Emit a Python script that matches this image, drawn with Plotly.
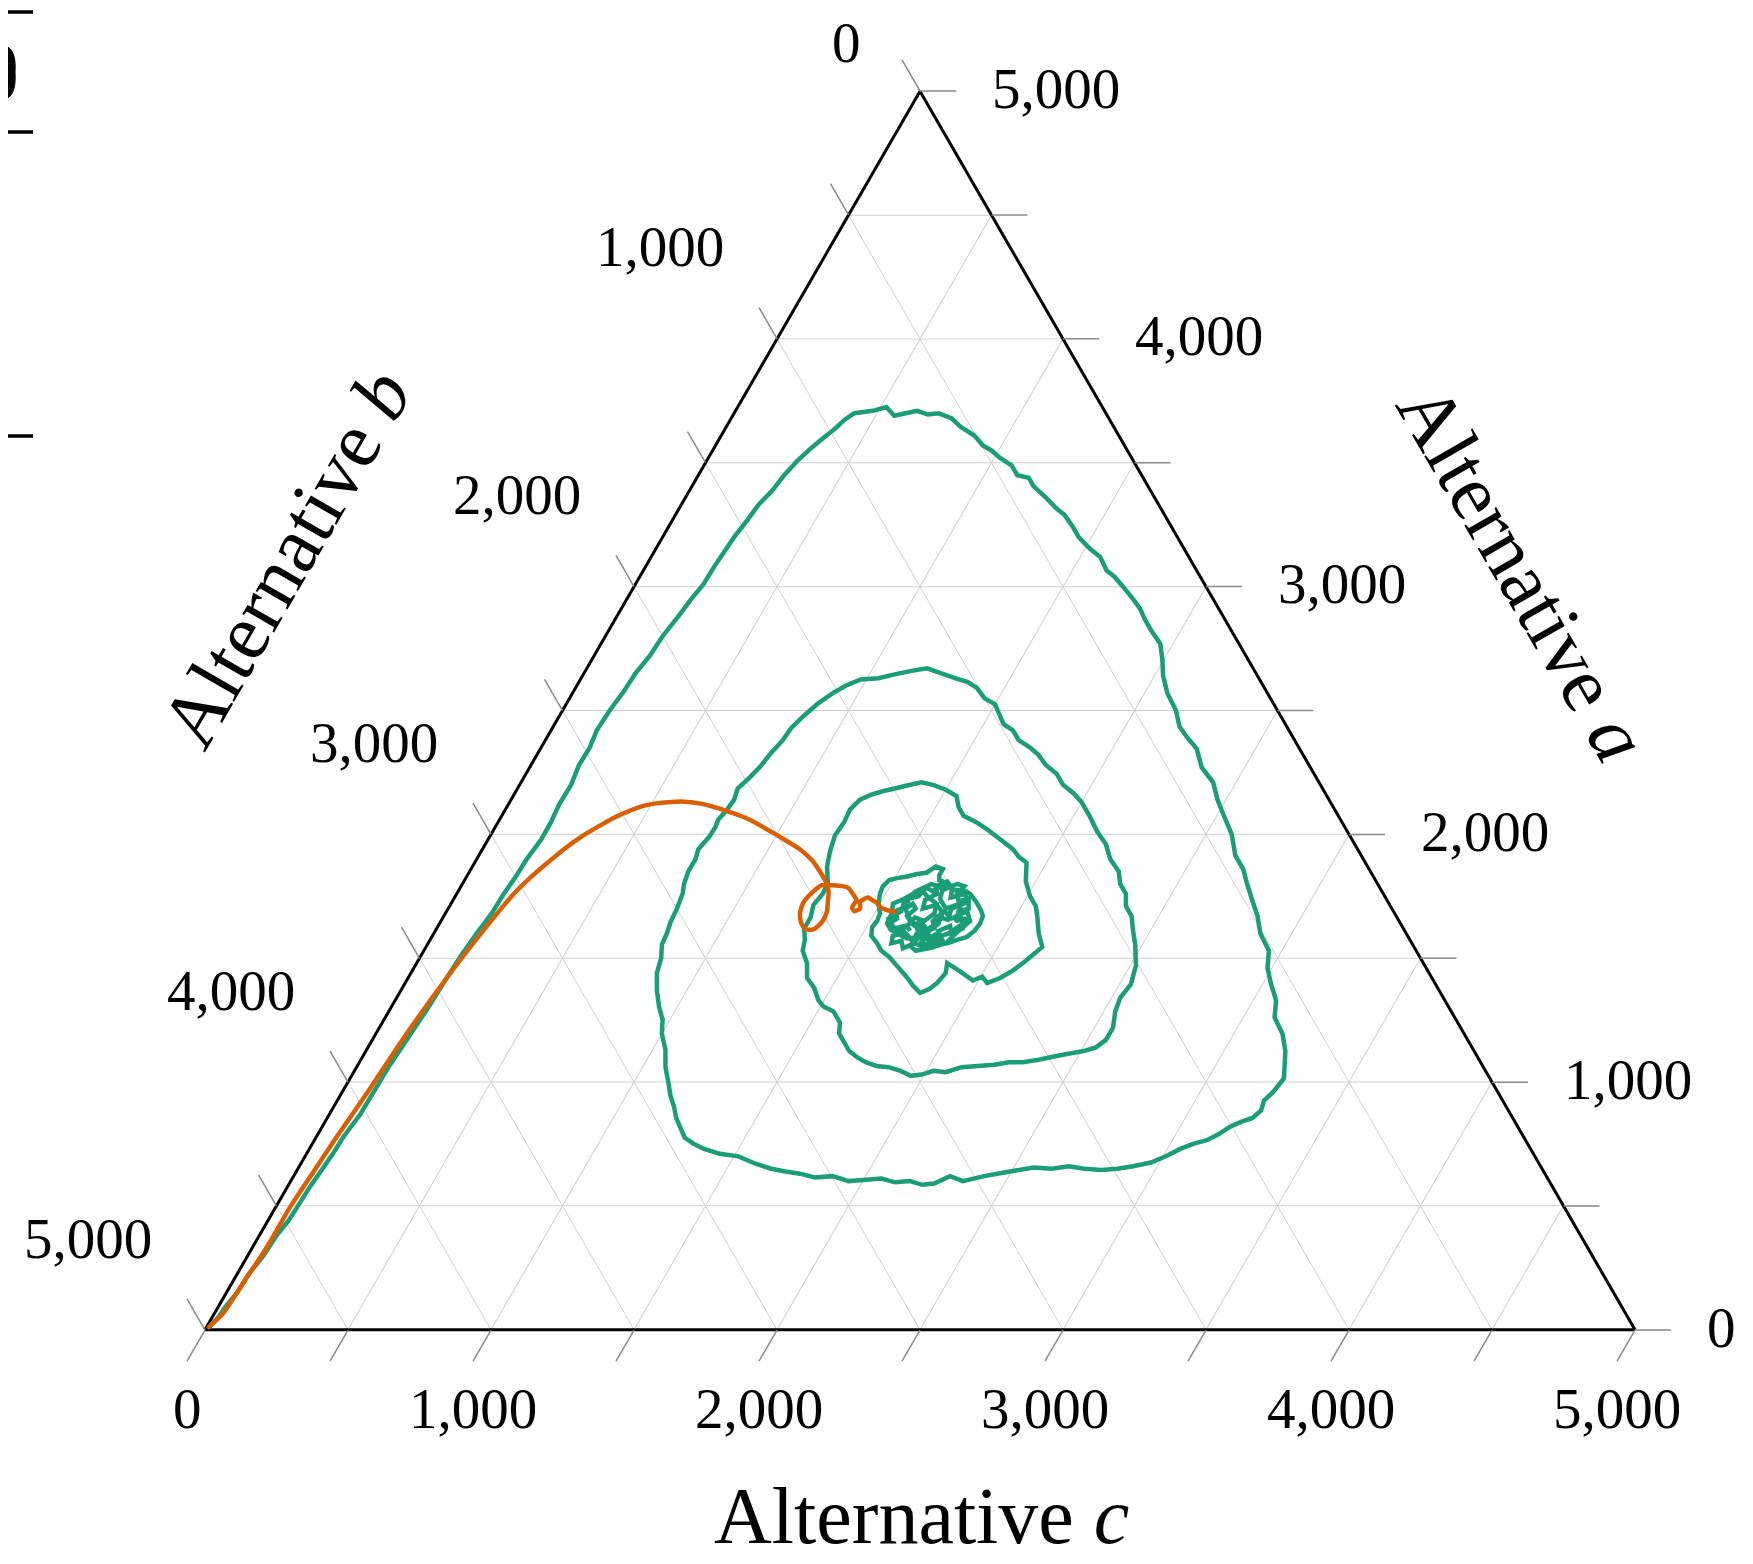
import plotly.graph_objects as go

TOTAL = 5000
GRID_VALUES = list(range(0, 5001, 500))
LABEL_VALUES = [0, 1000, 2000, 3000, 4000, 5000]
LABEL_TEXT = ["0", "1,000", "2,000", "3,000", "4,000", "5,000"]

# Green trajectory: component a (top vertex) and c (bottom-right vertex); b = total - a - c
green_a = [10, 50, 90, 150, 220, 300, 380, 440, 500, 570, 640, 710, 780, 870, 970, 1070, 1170,
           1300, 1420, 1510, 1600, 1680, 1760, 1830, 1900, 1980, 2050, 2120, 2200, 2280, 2350,
           2420, 2500, 2580, 2650, 2720, 2800, 2880, 2950, 3010, 3080, 3140, 3200, 3270, 3330,
           3390, 3450, 3510, 3560, 3600, 3640, 3675, 3700,
           3710, 3725, 3690, 3700, 3710, 3695, 3700, 3680, 3645, 3610, 3570, 3550, 3520, 3490,
           3450, 3440, 3405, 3360, 3315, 3290, 3245, 3200, 3155, 3120, 3065, 3040, 3000, 2950,
           2910, 2870, 2820, 2770, 2705, 2640, 2570, 2500, 2435, 2390, 2345, 2270, 2210, 2140,
           2075, 2000, 1915, 1860, 1805, 1740, 1670, 1600, 1530, 1460, 1395, 1330, 1260, 1195,
           1125, 1070, 1015, 960, 925, 885, 855, 840, 820, 790, 765, 750, 730, 700, 675, 660,
           650, 645, 650, 660, 650, 655, 640, 630, 620, 600, 620, 590, 585, 600, 595, 610, 605,
           600, 620, 615, 630, 640, 650, 670, 700, 710, 730, 750, 775, 815, 855, 900, 945, 1000,
           1060, 1130, 1195, 1250, 1305, 1370, 1440, 1500, 1555, 1600, 1645, 1700, 1760, 1800,
           1850, 1900, 1940, 1990, 2030, 2060, 2095, 2140, 2185, 2230, 2275, 2330, 2380, 2430,
           2480, 2530, 2570, 2600, 2625, 2630, 2645, 2660, 2670, 2650, 2630, 2615, 2590, 2550,
           2525, 2490, 2445, 2420, 2380, 2350, 2320, 2280, 2245, 2200, 2165, 2130, 2075, 2010,
           1960, 1900, 1850, 1800, 1760, 1710, 1670, 1610, 1555, 1470, 1395, 1340, 1285, 1220,
           1170, 1140, 1125, 1115, 1105, 1090, 1080, 1080, 1070, 1065, 1060, 1040, 1045, 1030,
           1025, 1045, 1060, 1065, 1080, 1100, 1125, 1160, 1195, 1240, 1285, 1305, 1330, 1380,
           1420, 1480, 1530, 1575, 1620, 1665, 1715, 1760, 1805, 1870, 1930, 1995, 2050, 2100,
           2140, 2160, 2175, 2185, 2195, 2210, 2200, 2180, 2155, 2110, 2075, 2050, 2020, 1980,
           1940, 1910, 1885, 1810, 1750, 1710, 1670, 1600, 1545, 1490, 1450, 1420, 1400, 1425,
           1410, 1445, 1480, 1440, 1400, 1375, 1360, 1390, 1425, 1465, 1505, 1530, 1560, 1590,
           1625, 1650, 1680, 1720, 1760, 1790, 1815, 1825, 1830, 1840, 1845, 1870, 1860, 1835,
           1815, 1800, 1775, 1775, 1760, 1730, 1695, 1670, 1640, 1610, 1585, 1575, 1560, 1570,
           1585, 1580, 1600, 1615, 1640, 1685, 1720, 1740, 1760, 1770, 1750, 1725, 1695, 1665,
           1640, 1615, 1625, 1650, 1680, 1700, 1720, 1700, 1670, 1640, 1610, 1580, 1600, 1640,
           1680, 1720, 1700, 1740, 1780, 1800, 1770, 1730, 1690, 1660, 1620, 1600, 1560, 1540,
           1560, 1610, 1650, 1690, 1660, 1690, 1650, 1620, 1610, 1650,
           1650, 1630, 1600, 1585, 1560, 1555, 1590, 1610, 1630, 1600, 1620, 1660, 1650, 1690,
           1700, 1740, 1730, 1760, 1790, 1800, 1780, 1800, 1770, 1785, 1750, 1740, 1710, 1690,
           1660, 1640, 1620, 1630, 1600, 1590, 1560, 1570, 1540, 1560, 1590, 1610, 1580, 1600,
           1575, 1545, 1530, 1550, 1585, 1620, 1605, 1640, 1670, 1655, 1700, 1725, 1760, 1745,
           1785, 1810, 1790, 1760, 1735, 1700, 1715, 1680, 1650, 1665, 1630, 1610]
green_c = [10, 22, 25, 38, 40, 55, 60, 72, 75, 78, 85, 92, 95, 108, 110, 112, 120,
           130, 135, 140, 150, 162, 165, 172, 175, 186, 185, 178, 180, 168, 170,
           160, 165, 176, 180, 195, 200, 215, 225, 238, 240, 245, 250, 262, 270,
           290, 300, 318, 340, 362, 385, 400, 420,
           480, 520, 565, 600, 635, 680, 715, 770, 820, 885, 935, 975, 1020, 1075,
           1115, 1160, 1195, 1260, 1320, 1360, 1410, 1455, 1515, 1570, 1620, 1660, 1710, 1770,
           1815, 1850, 1900, 1955, 1995, 2030, 2080, 2145, 2190, 2240, 2295, 2350, 2420, 2470,
           2525, 2590, 2645, 2700, 2740, 2790, 2845, 2890, 2955, 2985, 3030, 3080, 3110, 3170,
           3215, 3240, 3265, 3255, 3240, 3250, 3235, 3205, 3175, 3150, 3120, 3080, 3045, 3010, 2970, 2915,
           2865, 2810, 2750, 2690, 2635, 2570, 2500, 2455, 2415, 2350, 2295, 2255, 2215, 2165, 2115, 2060, 2010,
           1950, 1885, 1825, 1765, 1705, 1655, 1590, 1515, 1445, 1380, 1335, 1290, 1255, 1220, 1190, 1155, 1120,
           1080, 1045, 1000, 975, 935, 895, 860, 845, 820, 815, 805, 800, 790, 775,
           765, 765, 755, 768, 770, 765, 775, 780, 770, 790, 805, 815, 830, 835,
           855, 880, 910, 940, 980, 1040, 1085, 1140, 1190, 1250, 1310, 1360, 1405, 1450,
           1500, 1530, 1570, 1615, 1655, 1710, 1755, 1800, 1855, 1900, 1955, 2000, 2055, 2115,
           2170, 2215, 2270, 2300, 2340, 2365, 2405, 2440, 2475, 2520, 2540, 2530, 2540, 2565,
           2565, 2545, 2510, 2465, 2425, 2370, 2320, 2270, 2225, 2170, 2115, 2070, 2025, 1990,
           1955, 1910, 1860, 1815, 1770, 1730, 1690, 1655, 1620, 1600, 1555, 1510, 1480, 1440,
           1395, 1365, 1325, 1310, 1285, 1285, 1270, 1280, 1275, 1240, 1220, 1205, 1210, 1205,
           1220, 1250, 1285, 1320, 1350, 1400, 1445, 1500, 1550, 1580, 1615, 1670, 1725, 1790,
           1855, 1890, 1930, 1965, 2010, 2050, 2075, 2115, 2155, 2125, 2100, 2070, 2035, 2005,
           1980, 1920, 1855, 1870, 1860, 1845, 1820, 1780, 1740, 1690, 1640, 1600, 1570, 1535,
           1520, 1525, 1520, 1495, 1480, 1475, 1485, 1515, 1540, 1570, 1600, 1620, 1650, 1650,
           1660, 1700, 1730, 1765, 1795, 1830, 1865, 1885, 1890, 1885, 1870, 1845, 1815, 1760,
           1705, 1665, 1620, 1590, 1565, 1560, 1545, 1575, 1595, 1625, 1650, 1690, 1725, 1745,
           1740, 1715, 1685, 1645, 1615, 1600, 1615, 1635, 1620, 1650, 1700, 1760, 1800, 1830,
           1800, 1780, 1740, 1700, 1690, 1640, 1600, 1580, 1590, 1560, 1600, 1650, 1700, 1760,
           1810, 1830, 1850, 1820, 1780, 1740, 1720, 1740, 1690, 1670,
           1670, 1700, 1690, 1730, 1720, 1760, 1775, 1760, 1790, 1810, 1840, 1830, 1800, 1790,
           1820, 1800, 1770, 1750, 1760, 1730, 1700, 1680, 1660, 1630, 1620, 1590, 1600, 1570,
           1590, 1570, 1600, 1630, 1640, 1610, 1620, 1650, 1670, 1700, 1690, 1720, 1740, 1760,
           1790, 1775, 1720, 1690, 1705, 1680, 1725, 1745, 1720, 1770, 1760, 1800, 1780, 1735,
           1720, 1690, 1660, 1680, 1650, 1660, 1700, 1710, 1690, 1650, 1640, 1660]

# Orange trajectory
orange_a = [5, 65, 200, 335, 495, 630, 765, 970, 1170, 1420, 1600, 1760, 1825, 1885, 1940,
            1990, 2030, 2070, 2095, 2115, 2125, 2130, 2132, 2125, 2112, 2095, 2075, 2050,
            2020, 1990, 1940, 1895, 1850, 1805, 1765, 1725, 1690, 1655, 1628, 1615, 1618,
            1640, 1680, 1725, 1765, 1795, 1795, 1785, 1760, 1735, 1705, 1690, 1700, 1720,
            1725, 1745, 1735, 1725, 1705, 1695, 1685]
orange_c = [5, 30, 40, 50, 50, 60, 70, 90, 105, 135, 165, 200, 225, 255, 285,
            320, 358, 400, 437, 475, 515, 555, 610, 665, 720, 775, 835, 895,
            955, 1015, 1110, 1175, 1225, 1270, 1298, 1315, 1330, 1335, 1328, 1315, 1290,
            1265, 1240, 1230, 1240, 1260, 1285, 1355, 1385, 1410, 1410, 1425, 1440, 1430,
            1425, 1445, 1465, 1485, 1510, 1535, 1575]

GREEN = "#1b9e77"
ORANGE = "#d95f02"
FONT = "Liberation Serif"

# the page body adds an 8px margin; the figure is sized to fill the rest of the window
OFF = 8
WIN_W, WIN_H = 1753, 1564
W, H = WIN_W - OFF, WIN_H - OFF
ML, MR, MT, MB = 205 - OFF, 118, 91 - OFF, 234
PW, PH = W - ML - MR, H - MT - MB


def px_x(x):
    return (x - OFF - ML) / PW


def px_y(y):
    return (WIN_H - MB - y) / PH


fig = go.Figure()
fig.add_trace(go.Scatterternary(
    a=green_a, c=green_c, b=[TOTAL - a - c for a, c in zip(green_a, green_c)],
    mode="lines", line=dict(color=GREEN, width=4.5), showlegend=False, hoverinfo="skip"))
fig.add_trace(go.Scatterternary(
    a=orange_a, c=orange_c, b=[TOTAL - a - c for a, c in zip(orange_a, orange_c)],
    mode="lines", line=dict(color=ORANGE, width=4.5, shape="spline", smoothing=0.6),
    showlegend=False, hoverinfo="skip"))

axis_style = dict(tickmode="linear", tick0=0, dtick=500, showgrid=True,
                  gridcolor="#cfcfcf", gridwidth=1.2, showline=True, linecolor="black",
                  linewidth=3, showticklabels=False, ticks="", layer="below traces",
                  title=dict(text=""), min=0)

annotations = []
shapes = []
TICK_COLOR = "#8a8a8a"
TL = 36
for v in GRID_VALUES:
    f = v / TOTAL
    # a ticks (right edge, horizontal)
    shapes.append(dict(type="line", xref="paper", yref="paper", xsizemode="pixel",
                       ysizemode="pixel", xanchor=1 - f / 2, yanchor=f,
                       x0=0, y0=0, x1=TL, y1=0, line=dict(color=TICK_COLOR, width=1.5)))
    # b ticks (left edge, up-left)
    af = 1 - f
    shapes.append(dict(type="line", xref="paper", yref="paper", xsizemode="pixel",
                       ysizemode="pixel", xanchor=af / 2, yanchor=af,
                       x0=0, y0=0, x1=-TL / 2, y1=TL * 0.866,
                       line=dict(color=TICK_COLOR, width=1.5)))
    # c ticks (bottom edge, down-left)
    shapes.append(dict(type="line", xref="paper", yref="paper", xsizemode="pixel",
                       ysizemode="pixel", xanchor=f, yanchor=0,
                       x0=0, y0=0, x1=-TL / 2, y1=-TL * 0.866,
                       line=dict(color=TICK_COLOR, width=1.5)))

TF = dict(family=FONT, size=57, color="black")
for v, t in zip(LABEL_VALUES, LABEL_TEXT):
    f = v / TOTAL
    wide = len(t) > 1
    # a labels on the right edge
    annotations.append(dict(text=t, xref="paper", yref="paper", x=1 - f / 2, y=f,
                            xanchor="left", yanchor="middle", xshift=70, yshift=3,
                            showarrow=False, font=TF))
    # b labels on the left edge
    af = 1 - f
    annotations.append(dict(text=t, xref="paper", yref="paper", x=af / 2, y=af,
                            xanchor="center", yanchor="middle",
                            xshift=-117 if wide else -74, yshift=92 if wide else 49,
                            showarrow=False, font=TF))
    # c labels on the bottom edge
    annotations.append(dict(text=t, xref="paper", yref="paper", x=f, y=0,
                            xanchor="center", yanchor="middle", xshift=-18, yshift=-78,
                            showarrow=False, font=TF))

TITLE_F = dict(family=FONT, size=80, color="black")
annotations.append(dict(text="Alternative <i>c</i>", xref="paper", yref="paper",
                        x=px_x(921), y=px_y(1516), xanchor="center", yanchor="middle",
                        showarrow=False, font=TITLE_F))
annotations.append(dict(text="Alternative <i>b</i>", xref="paper", yref="paper",
                        x=px_x(286), y=px_y(558), xanchor="center", yanchor="middle",
                        textangle=-60, showarrow=False, font=TITLE_F))
annotations.append(dict(text="Alternative <i>a</i>", xref="paper", yref="paper",
                        x=px_x(1523), y=px_y(573), xanchor="center", yanchor="middle",
                        textangle=60, showarrow=False, font=TITLE_F))

# cropped fragment of a neighbouring figure at the top-left corner
for yy in [12, 132, 436]:
    shapes.append(dict(type="line", xref="paper", yref="paper", x0=px_x(0), x1=px_x(33),
                       y0=px_y(yy), y1=px_y(yy), line=dict(color="black", width=3.5)))
shapes.append(dict(type="path", xref="paper", yref="paper", xsizemode="pixel",
                   ysizemode="pixel", xanchor=px_x(0), yanchor=px_y(72),
                   path="M 0,27 Q 17,27 15,0 Q 17,-28 0,-28 L 0,-20 Q 6,-20 5,0 Q 6,19 0,19 Z",
                   fillcolor="black", line=dict(color="black", width=1)))

fig.update_layout(
    width=W, height=H, autosize=False,
    margin=dict(l=ML, r=MR, t=MT, b=MB, pad=0),
    paper_bgcolor="white", plot_bgcolor="white",
    ternary=dict(sum=TOTAL, bgcolor="white", domain=dict(x=[0, 1], y=[0, 1]),
                 aaxis=axis_style, baxis=axis_style, caxis=axis_style),
    annotations=annotations, shapes=shapes, showlegend=False,
)

fig.write_html("out.html")
